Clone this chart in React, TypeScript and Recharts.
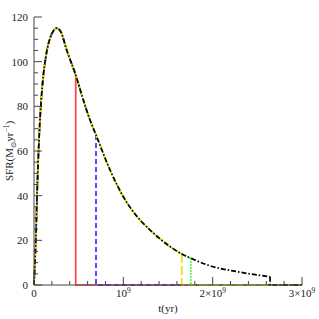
import React from 'react';
import { LineChart, Line, XAxis, YAxis } from 'recharts';

// ── Data (time in units of 10^9 yr, SFR in Msun/yr) ────────────────────────────

const T_GYR = [0, 0.02, 0.037, 0.067, 0.093, 0.14, 0.18, 0.22, 0.254, 0.3, 0.366, 0.467,
  0.552, 0.627, 0.694, 0.851, 1.0, 1.187, 1.3, 1.523, 1.654, 1.755, 1.971, 2.27, 2.643];
const SFR = [0, 20, 44, 74, 89, 104, 110.5, 114, 115, 113.4, 105.2, 94,
  82.8, 73.9, 67.2, 51.5, 39.5, 29.1, 24.6, 17.2, 13.9, 12.0, 8.6, 6.0, 3.7];

// time at which each run stops forming stars
const CUTOFFS = [0.467, 0.694, 1.755, 1.654, 2.643];
const T_END = 3;

const X_TICKS = Array.from({ length: 16 }, (_, i) => +(i * 0.2).toFixed(1));
const X_LABELS: Record<number, string[]> = { 0: ['0'], 1: ['10', '9'], 2: ['2×10', '9'], 3: ['3×10', '9'] };
const Y_TICKS = Array.from({ length: 25 }, (_, i) => i * 5);

// ── Styles ─────────────────────────────────────────────────────────────────────

const COLORS = ['#ff4040', '#3030ff', '#22ee22', '#f0e000', '#000000'];
const DASHES = [undefined, '5 3', '1.5 1.5', '9 3', '5 2 1.5 2'];
const FONT = '"Liberation Serif", "DejaVu Serif", serif';
const AXIS = '#444';
const LW = 1.7;

type Pt = { t: number; v: number };

function curveUntil(cut: number): Pt[] {
  return T_GYR.filter(t => t <= cut).map((t) => ({ t, v: SFR[T_GYR.indexOf(t)] }));
}

function dropFrom(cut: number): Pt[] {
  return [{ t: cut, v: SFR[T_GYR.indexOf(cut)] }, { t: cut, v: 0 }, { t: T_END, v: 0 }];
}

// ── Ticks ──────────────────────────────────────────────────────────────────────

function BottomTick({ x, y, payload }: any) {
  const v = +payload.value;
  const major = Math.abs(v - Math.round(v)) < 1e-6;
  const lab = major ? X_LABELS[Math.round(v)] : null;
  return (
    <g>
      <line x1={x} x2={x} y1={y} y2={y - (major ? 8 : 4)} stroke={AXIS} />
      {lab && (
        <text x={x} y={y + 12} textAnchor="middle" fontFamily={FONT} fontSize={11} fill="#222">
          {lab[0]}
          {lab[1] && <tspan dy={-4} fontSize={7.5}>{lab[1]}</tspan>}
        </text>
      )}
    </g>
  );
}

function TopTick({ x, y, payload }: any) {
  const v = +payload.value;
  const major = Math.abs(v - Math.round(v)) < 1e-6;
  return <line x1={x} x2={x} y1={y} y2={y + (major ? 8 : 4)} stroke={AXIS} />;
}

function LeftTick({ x, y, payload }: any) {
  const major = payload.value % 20 === 0;
  return (
    <g>
      <line x1={x} x2={x + (major ? 8 : 4)} y1={y} y2={y} stroke={AXIS} />
      {major && (
        <text x={x - 6} y={y} dy="0.35em" textAnchor="end" fontFamily={FONT} fontSize={11} fill="#222">
          {payload.value}
        </text>
      )}
    </g>
  );
}

function RightTick({ x, y, payload }: any) {
  const major = payload.value % 20 === 0;
  return <line x1={x} x2={x - (major ? 8 : 4)} y1={y} y2={y} stroke={AXIS} />;
}

function XLabel({ viewBox }: any) {
  return (
    <text x={viewBox.x + viewBox.width / 2} y={viewBox.y + 27} textAnchor="middle"
      fontFamily={FONT} fontSize={11} fill="#222">t(yr)</text>
  );
}

function YLabel({ viewBox }: any) {
  const cx = 13;
  const cy = viewBox.y + viewBox.height / 2;
  return (
    <text x={cx} y={cy} transform={`rotate(-90 ${cx} ${cy})`} textAnchor="middle"
      fontFamily={FONT} fontSize={11} fill="#222">
      SFR(M<tspan dy={2.5} fontSize={7.5}>⊙</tspan>
      <tspan dy={-2.5}>yr</tspan>
      <tspan dy={-4} fontSize={7.5}>−1</tspan>
      <tspan dy={4}>)</tspan>
    </text>
  );
}

// ── Chart ──────────────────────────────────────────────────────────────────────

export default function App() {
  return (
    <div style={{ width: 319, height: 319, background: '#fff' }}>
      <style>{'body{margin:0}'}</style>
      <LineChart width={319} height={319} margin={{ top: 17, right: 17, bottom: 0, left: 0 }}>
        <XAxis xAxisId="b" dataKey="t" type="number" domain={[0, T_END]} ticks={X_TICKS}
          interval={0} height={34} tickSize={0} tickMargin={0} tick={<BottomTick />}
          axisLine={{ stroke: AXIS }} allowDuplicatedCategory={false} label={<XLabel />} />
        <XAxis xAxisId="t" orientation="top" dataKey="t" type="number" domain={[0, T_END]}
          ticks={X_TICKS} interval={0} height={0} tickSize={0} tickMargin={0} tick={<TopTick />}
          axisLine={{ stroke: AXIS }} />
        <YAxis yAxisId="l" type="number" domain={[0, 120]} ticks={Y_TICKS} interval={0}
          width={34} tickSize={0} tickMargin={0} tick={<LeftTick />} axisLine={{ stroke: AXIS }}
          label={<YLabel />} />
        <YAxis yAxisId="r" orientation="right" type="number" domain={[0, 120]} ticks={Y_TICKS}
          interval={0} width={0} tickSize={0} tickMargin={0} tick={<RightTick />}
          axisLine={{ stroke: AXIS }} />

        {/* keeps the top/right frame axes bound to data */}
        <Line xAxisId="t" yAxisId="r" data={curveUntil(T_END)} dataKey="v" stroke="none"
          dot={false} activeDot={false} isAnimationActive={false} />

        {CUTOFFS.map((cut, i) => [
          <Line key={`c${i}`} xAxisId="b" yAxisId="l" data={curveUntil(cut)} dataKey="v"
            type="monotone" stroke={COLORS[i]} strokeWidth={LW} strokeDasharray={DASHES[i]}
            dot={false} activeDot={false} isAnimationActive={false} />,
          <Line key={`d${i}`} xAxisId="b" yAxisId="l" data={dropFrom(cut)} dataKey="v"
            type="linear" stroke={COLORS[i]} strokeWidth={LW} strokeDasharray={DASHES[i]}
            dot={false} activeDot={false} isAnimationActive={false} />,
        ])}
      </LineChart>
    </div>
  );
}
